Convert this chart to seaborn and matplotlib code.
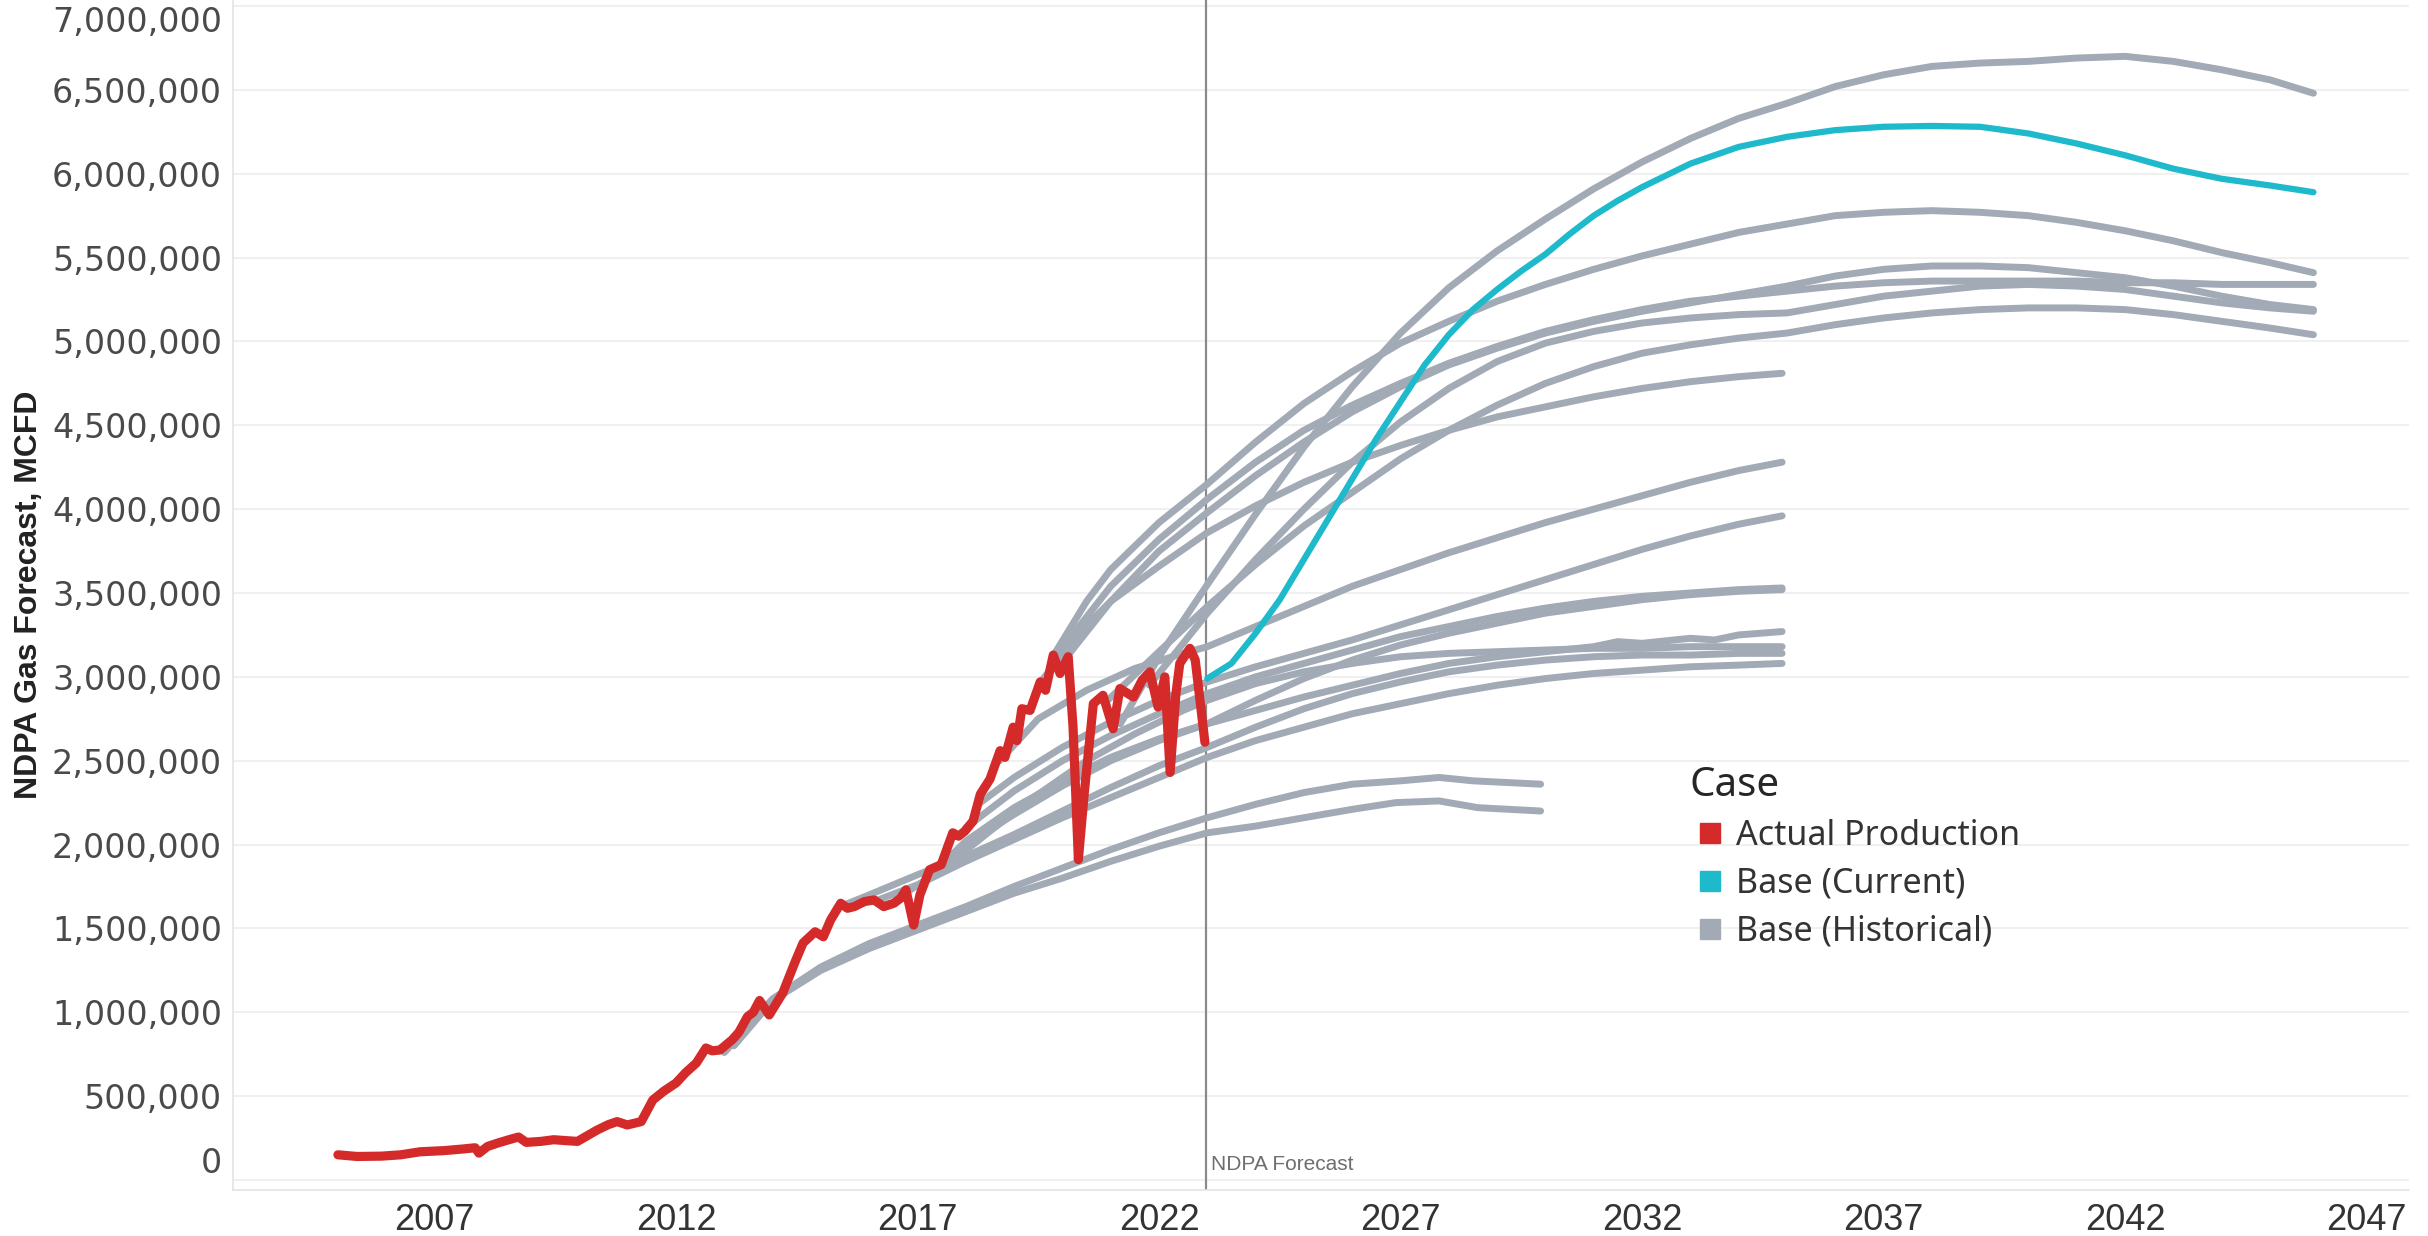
# NDPA gas forecast vs actual production (Tableau-style line chart)
import pandas as pd
import seaborn as sns
import matplotlib.pyplot as plt
from matplotlib.lines import Line2D

# ---------------------------------------------------------
# Data: (decimal year, million MCFD)
# ---------------------------------------------------------
actual_production = [
    (2005.0, 0.150), (2005.4, 0.140), (2005.9, 0.142), (2006.3, 0.150), (2006.7, 0.168),
    (2007.2, 0.175), (2007.6, 0.185), (2007.84, 0.192), (2007.92, 0.160), (2008.1, 0.200),
    (2008.33, 0.222), (2008.6, 0.245), (2008.74, 0.256), (2008.9, 0.224), (2009.2, 0.230),
    (2009.47, 0.240), (2009.7, 0.235), (2009.96, 0.230), (2010.2, 0.270), (2010.37, 0.298),
    (2010.6, 0.330), (2010.78, 0.348), (2010.99, 0.328), (2011.28, 0.348), (2011.52, 0.477),
    (2011.75, 0.530), (2012.0, 0.578), (2012.2, 0.640), (2012.42, 0.697), (2012.62, 0.787),
    (2012.75, 0.770), (2012.91, 0.775), (2013.16, 0.835), (2013.3, 0.880), (2013.48, 0.974),
    (2013.6, 1.000), (2013.73, 1.070), (2013.93, 0.984), (2014.21, 1.115), (2014.45, 1.290),
    (2014.63, 1.413), (2014.88, 1.480), (2015.05, 1.450), (2015.2, 1.550), (2015.41, 1.650),
    (2015.55, 1.620), (2015.69, 1.630), (2015.9, 1.660), (2016.1, 1.670), (2016.3, 1.630),
    (2016.51, 1.650), (2016.65, 1.680), (2016.76, 1.730), (2016.92, 1.520), (2017.05, 1.700),
    (2017.25, 1.850), (2017.49, 1.880), (2017.73, 2.070), (2017.85, 2.050), (2017.98, 2.080),
    (2018.15, 2.140), (2018.3, 2.300), (2018.5, 2.390), (2018.71, 2.560), (2018.81, 2.520),
    (2018.98, 2.700), (2019.06, 2.620), (2019.16, 2.810), (2019.33, 2.800), (2019.54, 2.970),
    (2019.65, 2.920), (2019.81, 3.130), (2019.95, 3.020), (2020.12, 3.120), (2020.22, 2.700),
    (2020.33, 1.910), (2020.45, 2.300), (2020.64, 2.840), (2020.84, 2.890), (2021.05, 2.690),
    (2021.19, 2.930), (2021.47, 2.880), (2021.65, 2.980), (2021.81, 3.030), (2021.98, 2.820),
    (2022.12, 3.000), (2022.23, 2.430), (2022.35, 2.900), (2022.43, 3.080), (2022.64, 3.170),
    (2022.75, 3.100), (2022.95, 2.610),
]

base_current = [
    (2023.0, 2.99), (2023.5, 3.08), (2024.0, 3.26), (2024.5, 3.46), (2025.0, 3.70),
    (2025.5, 3.94), (2026.0, 4.18), (2026.5, 4.42), (2027.0, 4.64), (2027.5, 4.86),
    (2028.0, 5.04), (2028.5, 5.19), (2029.0, 5.31), (2029.5, 5.42), (2030.0, 5.52),
    (2030.5, 5.64), (2031.0, 5.75), (2031.5, 5.84), (2032.0, 5.92), (2033.0, 6.06),
    (2034.0, 6.16), (2035.0, 6.22), (2036.0, 6.26), (2037.0, 6.28), (2038.0, 6.285),
    (2039.0, 6.28), (2040.0, 6.24), (2041.0, 6.18), (2042.0, 6.11), (2043.0, 6.03),
    (2044.0, 5.97), (2045.0, 5.93), (2045.9, 5.89),
]

# historical forecasts running to 2045
hist_a = [(2021.2, 2.72), (2022, 3.12), (2023, 3.55), (2024, 3.97), (2025, 4.37), (2026, 4.73),
          (2027, 5.05), (2028, 5.32), (2029, 5.54), (2030, 5.73), (2031, 5.91), (2032, 6.07),
          (2033, 6.21), (2034, 6.33), (2035, 6.42), (2036, 6.52), (2037, 6.59), (2038, 6.64),
          (2039, 6.66), (2040, 6.67), (2041, 6.69), (2042, 6.70), (2043, 6.67), (2044, 6.62),
          (2045, 6.56), (2045.9, 6.48)]
hist_b = [(2019.8, 3.12), (2020.5, 3.45), (2021, 3.64), (2022, 3.92), (2023, 4.15), (2024, 4.40),
          (2025, 4.63), (2026, 4.82), (2027, 4.99), (2028, 5.12), (2029, 5.24), (2030, 5.34),
          (2031, 5.43), (2032, 5.51), (2033, 5.58), (2034, 5.65), (2035, 5.70), (2036, 5.75),
          (2037, 5.77), (2038, 5.78), (2039, 5.77), (2040, 5.75), (2041, 5.71), (2042, 5.66),
          (2043, 5.60), (2044, 5.53), (2045, 5.47), (2045.9, 5.41)]
hist_c = [(2019.8, 3.10), (2021, 3.54), (2022, 3.82), (2023, 4.06), (2024, 4.28), (2025, 4.47),
          (2026, 4.62), (2027, 4.75), (2028, 4.87), (2029, 4.97), (2030, 5.06), (2031, 5.13),
          (2032, 5.19), (2033, 5.24), (2034, 5.27), (2035, 5.30), (2036, 5.33), (2037, 5.35),
          (2038, 5.36), (2039, 5.36), (2040, 5.36), (2041, 5.36), (2042, 5.35), (2043, 5.35),
          (2044, 5.34), (2045, 5.34), (2045.9, 5.34)]
hist_d = [(2021.8, 2.95), (2022.5, 3.20), (2023, 3.38), (2024, 3.70), (2025, 4.00), (2026, 4.28),
          (2027, 4.52), (2028, 4.72), (2029, 4.88), (2030, 4.99), (2031, 5.06), (2032, 5.11),
          (2033, 5.14), (2034, 5.16), (2035, 5.17), (2036, 5.22), (2037, 5.27), (2038, 5.30),
          (2039, 5.33), (2040, 5.34), (2041, 5.33), (2042, 5.31), (2043, 5.27), (2044, 5.23),
          (2045, 5.20), (2045.9, 5.18)]
hist_e = [(2019.9, 3.05), (2021, 3.45), (2022, 3.75), (2023, 3.98), (2024, 4.20), (2025, 4.40),
          (2026, 4.58), (2027, 4.73), (2028, 4.86), (2029, 4.96), (2030, 5.05), (2031, 5.12),
          (2032, 5.18), (2033, 5.23), (2034, 5.28), (2035, 5.33), (2036, 5.39), (2037, 5.43),
          (2038, 5.45), (2039, 5.45), (2040, 5.44), (2041, 5.41), (2042, 5.38), (2043, 5.33),
          (2044, 5.27), (2045, 5.22), (2045.9, 5.19)]
hist_g = [(2020.9, 2.85), (2022, 3.15), (2023, 3.42), (2024, 3.67), (2025, 3.90), (2026, 4.10),
          (2027, 4.30), (2028, 4.47), (2029, 4.62), (2030, 4.75), (2031, 4.85), (2032, 4.93),
          (2033, 4.98), (2034, 5.02), (2035, 5.05), (2036, 5.10), (2037, 5.14), (2038, 5.17),
          (2039, 5.19), (2040, 5.20), (2041, 5.20), (2042, 5.19), (2043, 5.16), (2044, 5.12),
          (2045, 5.08), (2045.9, 5.04)]

# historical forecasts running to 2035
hist_m1 = [(2019.5, 2.95), (2020.3, 3.25), (2021, 3.45), (2022, 3.66), (2023, 3.86), (2024, 4.02),
           (2025, 4.16), (2026, 4.28), (2027, 4.38), (2028, 4.47), (2029, 4.55), (2030, 4.61),
           (2031, 4.67), (2032, 4.72), (2033, 4.76), (2034, 4.79), (2034.9, 4.81)]
hist_m2 = [(2018.7, 2.50), (2019.5, 2.75), (2020.5, 2.92), (2021.5, 3.05), (2022.5, 3.14),
           (2023, 3.18), (2024, 3.30), (2025, 3.42), (2026, 3.54), (2027, 3.64), (2028, 3.74),
           (2029, 3.83), (2030, 3.92), (2031, 4.00), (2032, 4.08), (2033, 4.16), (2034, 4.23),
           (2034.9, 4.28)]
hist_m3 = [(2018.3, 2.25), (2019, 2.40), (2020, 2.58), (2021, 2.73), (2022, 2.86), (2023, 2.97),
           (2024, 3.06), (2025, 3.14), (2026, 3.22), (2027, 3.31), (2028, 3.40), (2029, 3.49),
           (2030, 3.58), (2031, 3.67), (2032, 3.76), (2033, 3.84), (2034, 3.91), (2034.9, 3.96)]
hist_m4 = [(2017.5, 1.88), (2018, 2.02), (2019, 2.22), (2020, 2.38), (2021, 2.52), (2022, 2.63),
           (2023, 2.72), (2024, 2.86), (2025, 2.99), (2026, 3.10), (2027, 3.19), (2028, 3.26),
           (2029, 3.32), (2030, 3.38), (2031, 3.42), (2032, 3.46), (2033, 3.49), (2034, 3.51),
           (2034.9, 3.52)]
hist_m4b = [(2018.0, 2.10), (2019, 2.32), (2020, 2.50), (2021, 2.65), (2022, 2.78), (2023, 2.90),
            (2024, 3.00), (2025, 3.08), (2026, 3.16), (2027, 3.24), (2028, 3.30), (2029, 3.36),
            (2030, 3.41), (2031, 3.45), (2032, 3.48), (2033, 3.50), (2034, 3.52), (2034.9, 3.53)]
hist_m5 = [(2017.3, 1.85), (2018, 2.00), (2019, 2.18), (2020, 2.35), (2021, 2.50), (2022, 2.62),
           (2023, 2.72), (2024, 2.80), (2025, 2.88), (2026, 2.95), (2027, 3.02), (2028, 3.08),
           (2029, 3.12), (2030, 3.15), (2031, 3.18), (2031.5, 3.21), (2032, 3.20), (2033, 3.23),
           (2033.5, 3.22), (2034, 3.25), (2034.9, 3.27)]
hist_m6 = [(2016.8, 1.72), (2017.5, 1.85), (2018.5, 2.08), (2019.5, 2.30), (2020.5, 2.50),
           (2021.5, 2.66), (2022.5, 2.80), (2023, 2.86), (2024, 2.96), (2025, 3.03), (2026, 3.08),
           (2027, 3.12), (2028, 3.14), (2029, 3.15), (2030, 3.16), (2031, 3.17), (2032, 3.17),
           (2033, 3.18), (2034, 3.18), (2034.9, 3.18)]
hist_m7 = [(2015.4, 1.63), (2016, 1.70), (2017, 1.82), (2018, 1.93), (2019, 2.06), (2020, 2.20),
           (2021, 2.34), (2022, 2.47), (2023, 2.58), (2024, 2.70), (2025, 2.81), (2026, 2.90),
           (2027, 2.97), (2028, 3.03), (2029, 3.07), (2030, 3.10), (2031, 3.12), (2032, 3.13),
           (2033, 3.13), (2034, 3.14), (2034.9, 3.14)]
hist_m8 = [(2016.1, 1.66), (2017, 1.76), (2018, 1.90), (2019, 2.03), (2020, 2.16), (2021, 2.28),
           (2022, 2.40), (2023, 2.52), (2024, 2.62), (2025, 2.70), (2026, 2.78), (2027, 2.84),
           (2028, 2.90), (2029, 2.95), (2030, 2.99), (2031, 3.02), (2032, 3.04), (2033, 3.06),
           (2034, 3.07), (2034.9, 3.08)]

# historical forecasts running to 2030
hist_s1 = [(2013.0, 0.76), (2014, 1.08), (2015, 1.27), (2016, 1.41), (2017, 1.52), (2018, 1.63),
           (2019, 1.75), (2020, 1.86), (2021, 1.97), (2022, 2.07), (2023, 2.16), (2024, 2.24),
           (2025, 2.31), (2026, 2.36), (2027, 2.38), (2027.8, 2.40), (2028.5, 2.38), (2029.9, 2.36)]
hist_s2 = [(2013.2, 0.80), (2014, 1.07), (2015, 1.25), (2016, 1.38), (2017, 1.49), (2018, 1.60),
           (2019, 1.71), (2020, 1.80), (2021, 1.90), (2022, 1.99), (2023, 2.07), (2024, 2.11),
           (2025, 2.16), (2026, 2.21), (2026.9, 2.25), (2027.8, 2.26), (2028.6, 2.22), (2029.9, 2.20)]

historical = {
    'a': hist_a, 'b': hist_b, 'c': hist_c, 'd': hist_d, 'e': hist_e, 'g': hist_g,
    'm1': hist_m1, 'm2': hist_m2, 'm3': hist_m3, 'm4': hist_m4, 'm4b': hist_m4b,
    'm5': hist_m5, 'm6': hist_m6, 'm7': hist_m7, 'm8': hist_m8, 's1': hist_s1, 's2': hist_s2,
}

case_labels = ['Actual Production', 'Base (Current)', 'Base (Historical)']
x_ticks = [2007, 2012, 2017, 2022, 2027, 2032, 2037, 2042, 2047]
y_ticks = list(range(0, 7_000_001, 500_000))
forecast_start = 2022.97

RED = '#d42a2a'
TEAL = '#1fb9cc'
GRAY = '#a2aab6'
NARROW = ['Liberation Sans', 'DejaVu Sans']

# ---------------------------------------------------------
# Build long tables
# ---------------------------------------------------------
def to_frame(points, series):
    return pd.DataFrame({'year': [p[0] for p in points],
                         'mcfd': [p[1] * 1_000_000 for p in points],
                         'series': series})

hist_df = pd.concat([to_frame(pts, name) for name, pts in historical.items()], ignore_index=True)
actual_df = to_frame(actual_production, 'actual')
current_df = to_frame(base_current, 'current')

# ---------------------------------------------------------
# Plot
# ---------------------------------------------------------
sns.set_theme(style='white')
plt.rcParams['font.family'] = ['DejaVu Sans']

fig = plt.figure(figsize=(24.28, 12.36), dpi=100)
ax = fig.add_axes([0.096, 0.0372, 0.896, 0.9628])

sns.lineplot(data=hist_df, x='year', y='mcfd', units='series', estimator=None,
             color=GRAY, lw=5.0, solid_capstyle='round', ax=ax, legend=False)
sns.lineplot(data=actual_df, x='year', y='mcfd', color=RED, lw=6.6,
             solid_joinstyle='round', solid_capstyle='round', ax=ax, legend=False)
sns.lineplot(data=current_df, x='year', y='mcfd', color=TEAL, lw=4.5,
             solid_capstyle='round', ax=ax, legend=False)

ax.axvline(forecast_start, color='#8a8a8a', lw=1.6, zorder=1)
ax.text(forecast_start + 0.1, 90_000, 'NDPA Forecast', color='#6e6e6e', fontsize=15,
        va='center', ha='left', family=NARROW)

ax.set_xlim(2002.83, 2047.87)
ax.set_ylim(-60_000, 7_036_000)

ax.set_xticks(x_ticks)
ax.set_xticklabels([str(y) for y in x_ticks], fontsize=26, color='#333333', family=NARROW)
ax.set_yticks(y_ticks)
ax.set_yticklabels([f'{v:,}' for v in y_ticks], fontsize=24, color='#4a4a4a')
ylabels = ax.get_yticklabels()
ylabels[0].set_va('bottom')
ylabels[-1].set_va('top')
ax.tick_params(axis='x', length=0, pad=9)
ax.tick_params(axis='y', length=0, pad=8)

ax.yaxis.grid(True, color='#efefef', lw=1.3)
ax.xaxis.grid(False)
ax.set_axisbelow(True)
for side in ['top', 'right']:
    ax.spines[side].set_visible(False)
for side in ['left', 'bottom']:
    ax.spines[side].set_color('#e4e4e4')
    ax.spines[side].set_linewidth(1.2)

ax.set_xlabel('')
ax.set_ylabel('NDPA Gas Forecast, MCFD', fontsize=23, fontweight='bold', color='#222222',
              family=NARROW)
ax.yaxis.set_label_coords(-0.087, 0.5)

handles = [Line2D([], [], ls='', marker='s', markersize=15, color=c) for c in (RED, TEAL, GRAY)]
leg = ax.legend(handles, case_labels, title='Case', loc='upper left',
                bbox_to_anchor=(1676 / 2428, 1 - 752 / 1236), bbox_transform=fig.transFigure,
                frameon=False, alignment='left', handletextpad=0.15, handlelength=1.2,
                labelspacing=0.4, borderaxespad=0,
                prop={'family': 'Noto Sans', 'size': 24.5},
                title_fontproperties={'family': 'Noto Sans', 'size': 29})
for t in leg.get_texts():
    t.set_color('#333333')

fig.savefig('out.png', dpi=100)
